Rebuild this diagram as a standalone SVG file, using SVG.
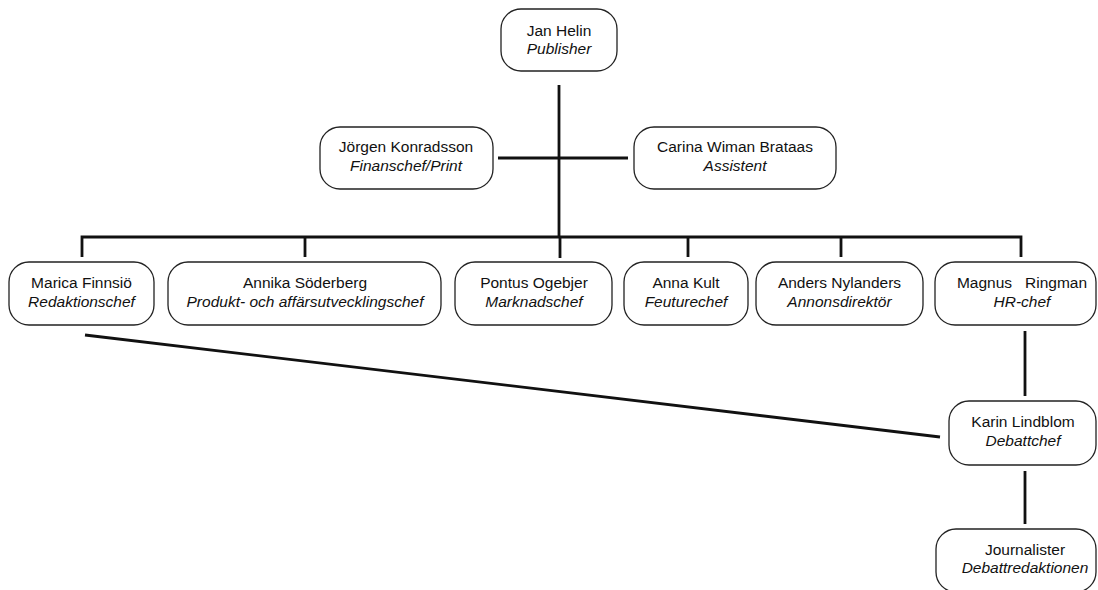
<svg xmlns="http://www.w3.org/2000/svg" width="1098" height="590" viewBox="0 0 1098 590">
<style>
.box{fill:#fff;stroke:#222;stroke-width:1.3}
.t{font-family:"Liberation Sans",Arial,sans-serif;font-size:15.5px;fill:#111;text-anchor:middle}
.i{font-style:italic}
.c{stroke:#111;stroke-width:2.8;fill:none}
</style>
<rect width="1098" height="590" fill="#fff"/>
<g id="connectors">
<line class="c" x1="559" y1="85" x2="559" y2="237"/>
<line class="c" x1="498" y1="158" x2="628" y2="158"/>
<polyline class="c" points="82,257 82,237 1021,237 1021,257"/>
<line class="c" x1="305" y1="237" x2="305" y2="257"/>
<line class="c" x1="560" y1="237" x2="560" y2="258"/>
<line class="c" x1="688" y1="237" x2="688" y2="257"/>
<line class="c" x1="841" y1="237" x2="841" y2="257"/>
<line class="c" x1="1025" y1="331" x2="1025" y2="396"/>
<line class="c" x1="1025" y1="471" x2="1025" y2="524"/>
<line class="c" x1="85" y1="335" x2="940" y2="437"/>
</g>
<g id="jan">
<rect class="box" x="501" y="9" width="116" height="62" rx="20"/>
<text class="t" x="559" y="36">Jan Helin</text>
<text class="t i" x="559" y="54">Publisher</text>
</g>
<g id="jorgen">
<rect class="box" x="320" y="127" width="173" height="62" rx="20"/>
<text class="t" x="406" y="152">Jörgen Konradsson</text>
<text class="t i" x="406" y="171">Finanschef/Print</text>
</g>
<g id="carina">
<rect class="box" x="634" y="127" width="202" height="62" rx="20"/>
<text class="t" x="735" y="152">Carina Wiman Brataas</text>
<text class="t i" x="735" y="171">Assistent</text>
</g>
<g id="marica">
<rect class="box" x="9" y="262" width="145" height="63" rx="20"/>
<text class="t" x="81.5" y="288">Marica Finnsiö</text>
<text class="t i" x="81.5" y="307">Redaktionschef</text>
</g>
<g id="annika">
<rect class="box" x="168" y="262" width="273" height="63" rx="20"/>
<text class="t" x="305" y="288">Annika Söderberg</text>
<text class="t i" x="305" y="307">Produkt- och affärsutvecklingschef</text>
</g>
<g id="pontus">
<rect class="box" x="455" y="262" width="157" height="63" rx="20"/>
<text class="t" x="534" y="288">Pontus Ogebjer</text>
<text class="t i" x="534" y="307">Marknadschef</text>
</g>
<g id="anna">
<rect class="box" x="624" y="262" width="124" height="63" rx="20"/>
<text class="t" x="686" y="288">Anna Kult</text>
<text class="t i" x="686" y="307">Feuturechef</text>
</g>
<g id="anders">
<rect class="box" x="756" y="262" width="167" height="63" rx="20"/>
<text class="t" x="839.5" y="288">Anders Nylanders</text>
<text class="t i" x="839.5" y="307">Annonsdirektör</text>
</g>
<g id="magnus">
<rect class="box" x="935" y="262" width="161" height="63" rx="20"/>
<text class="t" x="1022" y="288" xml:space="preserve">Magnus   Ringman</text>
<text class="t i" x="1022" y="307">HR-chef</text>
</g>
<g id="karin">
<rect class="box" x="949" y="401" width="147" height="64" rx="20"/>
<text class="t" x="1023" y="427">Karin Lindblom</text>
<text class="t i" x="1023" y="446">Debattchef</text>
</g>
<g id="journalister">
<rect class="box" x="936" y="529" width="160" height="63" rx="20"/>
<text class="t" x="1025" y="555">Journalister</text>
<text class="t i" x="1025" y="573">Debattredaktionen</text>
</g>
</svg>
